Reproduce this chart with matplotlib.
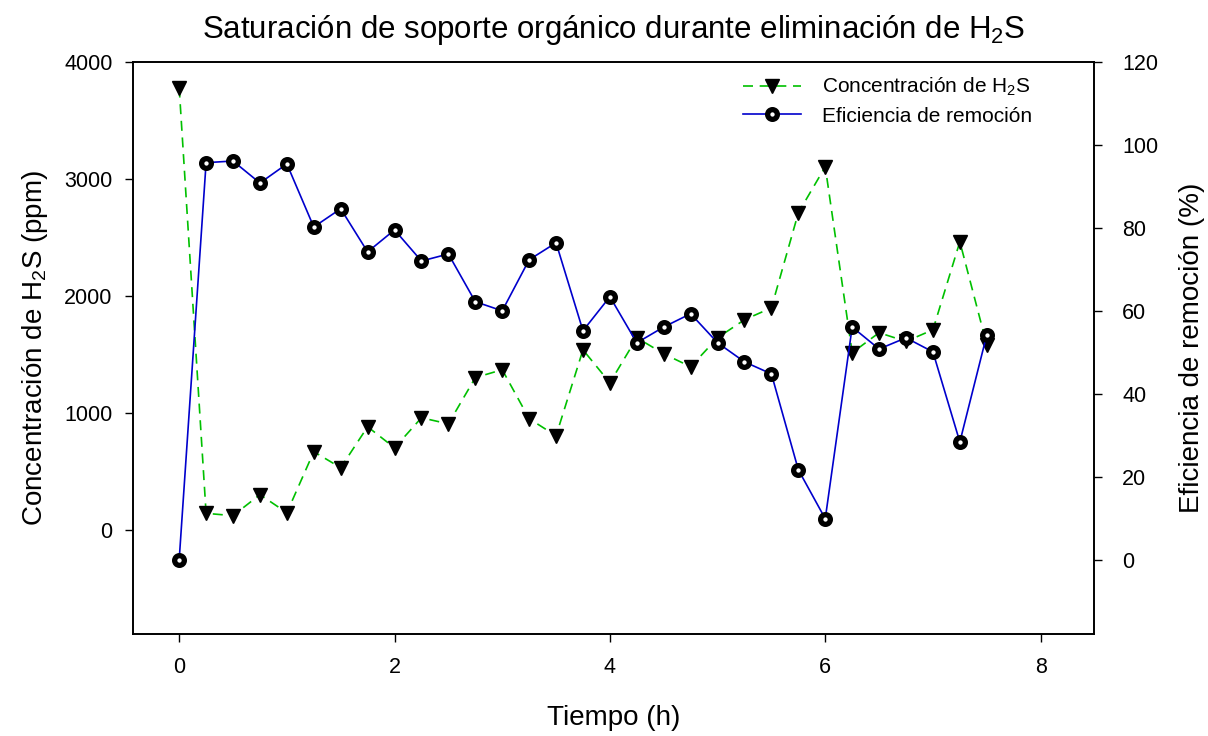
import matplotlib
matplotlib.use("Agg")
from matplotlib import pyplot as plt

plt.rcParams['font.family'] = ['Liberation Sans', 'DejaVu Sans']
plt.rcParams['mathtext.default'] = 'regular'

# datos
tiempo = [0, 0.25, 0.5, 0.75, 1.0, 1.25, 1.5, 1.75, 2.0, 2.25, 2.5, 2.75, 3.0, 3.25, 3.5, 3.75,
          4.0, 4.25, 4.5, 4.75, 5.0, 5.25, 5.5, 5.75, 6.0, 6.25, 6.5, 6.75, 7.0, 7.25, 7.5]
conc_h2s = [3780, 140, 120, 300, 145, 667, 530, 880, 700, 957, 905, 1300, 1368, 949, 803, 1538,
            1256, 1641, 1504, 1393, 1641, 1795, 1897, 2709, 3103, 1513, 1684, 1610, 1709, 2462, 1581]
eficiencia = [0, 95.7, 96.1, 90.8, 95.4, 80.2, 84.6, 74.2, 79.5, 72.0, 73.7, 62.2, 60.0, 72.3, 76.4, 55.2,
              63.4, 52.3, 56.1, 59.3, 52.3, 47.7, 44.8, 21.7, 9.9, 56.1, 50.8, 53.5, 50.1, 28.4, 54.2]

x_ticks = [0, 2, 4, 6, 8]
y1_ticks = [0, 1000, 2000, 3000, 4000]
y2_ticks = [0, 20, 40, 60, 80, 100, 120]

fig = plt.figure(figsize=(12.08, 7.36), dpi=100)
ax1 = fig.add_axes([0.110, 0.139, 0.796, 0.777])
ax2 = ax1.twinx()

l1, = ax1.plot(tiempo, conc_h2s, color="#00c000", linestyle=(0, (6, 4)), linewidth=1.2,
               marker="v", markersize=10.5, markerfacecolor="black", markeredgecolor="black",
               label="Concentración de H$_2$S")
l2, = ax2.plot(tiempo, eficiencia, color="#0000cc", linewidth=1.2,
               marker="o", markersize=7, markerfacecolor="white", markeredgecolor="black",
               markeredgewidth=3.8, label="Eficiencia de remoción")

ax1.set_xlim(-0.43, 8.5)
ax1.set_ylim(-889, 4000)
ax2.set_ylim(-17.8, 120)
ax1.set_xticks(x_ticks)
ax1.set_yticks(y1_ticks)
ax2.set_yticks(y2_ticks)

ax1.tick_params(axis="x", direction="out", length=6, width=1, labelsize=15.5, pad=10.5)
ax1.tick_params(axis="y", direction="out", length=6, width=1, labelsize=15.5, pad=8.5)
ax2.tick_params(axis="y", direction="out", length=6, width=1, labelsize=15.5, pad=14)
for ax in (ax1, ax2):
    for s in ax.spines.values():
        s.set_linewidth(1.2)

ax1.set_xlabel("Tiempo (h)", fontsize=20, labelpad=20)
ax1.set_ylabel("Concentración de H$_2$S (ppm)", fontsize=20, labelpad=10)
ax2.set_ylabel("Eficiencia de remoción (%)", fontsize=20, labelpad=15)
ax1.set_title("Saturación de soporte orgánico durante eliminación de H$_2$S", fontsize=22.5, pad=17)

ax2.legend(handles=[l1, l2], loc="upper left", bbox_to_anchor=(0.634, 0.975), frameon=False,
           fontsize=15, handlelength=2.8, handletextpad=1.0, labelspacing=0.4,
           borderpad=0, borderaxespad=0)

plt.savefig("out.png", dpi=100)
